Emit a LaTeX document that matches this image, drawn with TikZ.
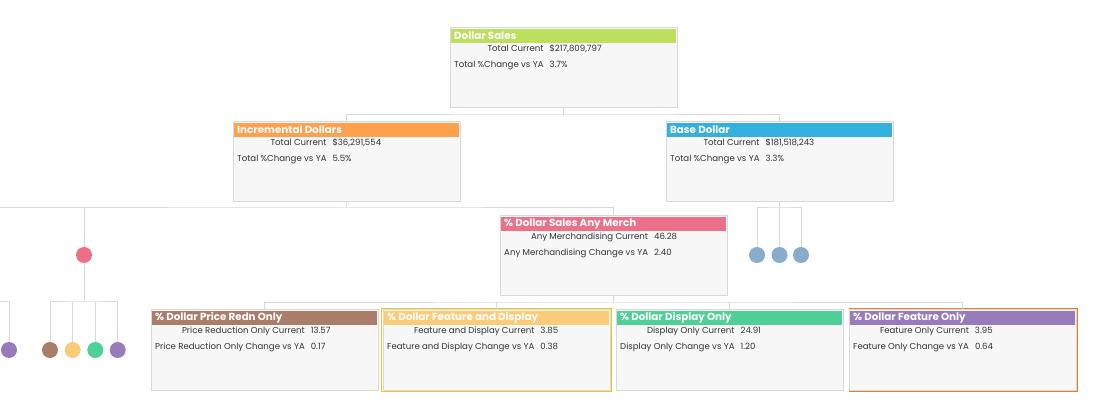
\documentclass[tikz,border=0pt]{standalone}
\usepackage{fontspec}
\setmainfont{Poppins}
\definecolor{boxline}{HTML}{D9D9D9}
\definecolor{boxfill}{HTML}{F7F7F7}
\definecolor{connc}{HTML}{D9D9D9}
\definecolor{txt}{HTML}{333333}
\definecolor{cLime}{HTML}{BCDF5E}
\definecolor{cOrange}{HTML}{FFA04F}
\definecolor{cBlue}{HTML}{34B0DC}
\definecolor{cPink}{HTML}{EC7088}
\definecolor{cBrown}{HTML}{AA7C6A}
\definecolor{cYellow}{HTML}{FACC7A}
\definecolor{cGreen}{HTML}{50CF96}
\definecolor{cPurple}{HTML}{987BBB}
\definecolor{cSteel}{HTML}{8AACCB}
\definecolor{selYellow}{HTML}{F5C518}
\definecolor{selOrange}{HTML}{F07D1F}
\newcommand\card[9]{%
  \node[card] (#1) at (#2,#3) {};
  \fill[#4] (#2+0.6,#3+0.6) rectangle (#2+226.4,#3+15);
  \node[hdr] (#1-t) at (#2+4,#3+8) {#5};
  \node[body] (#1-b) at (#2+4,#3+16) {\begin{tabular}{@{}r@{\hspace{6pt}}l@{}}#6 & #7\\[6pt] #8 & #9\end{tabular}};
}
\tikzset{
  card/.style={draw=boxline, fill=boxfill, line width=1pt, minimum width=227pt, minimum height=80pt, anchor=north west, inner sep=0pt, outer sep=0pt},
  hdr/.style={anchor=west, inner sep=0pt, text=white, font=\fontsize{10.3}{12}\selectfont\bfseries},
  body/.style={anchor=north west, inner sep=0pt, text=txt, font=\fontsize{8.6}{10}\selectfont},
  conn/.style={draw=connc, line width=1pt},
  dot/.style={circle, minimum size=16pt, inner sep=0pt, outer sep=0pt},
}
\begin{document}
\begin{tikzpicture}[x=1pt,y=-1pt]
\useasboundingbox[fill=white] (0,0) rectangle (1096,414);
% cards
\card{ds}{450}{28}{cLime}{Dollar Sales}{Total Current}{\$217,809,797}{Total \%Change vs YA}{3.7\%}
\card{inc}{233}{122}{cOrange}{Incremental Dollars}{Total Current}{\$36,291,554}{Total \%Change vs YA}{5.5\%}
\card{base}{666}{122}{cBlue}{Base Dollar}{Total Current}{\$181,518,243}{Total \%Change vs YA}{3.3\%}
\card{am}{500}{216}{cPink}{\% Dollar Sales Any Merch}{Any Merchandising Current}{46.28}{Any Merchandising Change vs YA}{2.40}
\card{pr}{151}{310}{cBrown}{\% Dollar Price Redn Only}{Price Reduction Only Current}{13.57}{Price Reduction Only Change vs YA}{0.17}
\card{fd}{383}{310}{cYellow}{\% Dollar Feature and Display}{Feature and Display Current}{3.85}{Feature and Display Change vs YA}{0.38}
\card{do}{616}{310}{cGreen}{\% Dollar Display Only}{Display Only Current}{24.91}{Display Only Change vs YA}{1.20}
\card{fo}{849}{310}{cPurple}{\% Dollar Feature Only}{Feature Only Current}{3.95}{Feature Only Change vs YA}{0.64}
% selection outlines
\draw[selYellow, line width=1pt] ([xshift=-1.5pt,yshift=1.5pt]fd.north west) rectangle ([xshift=1.5pt,yshift=-1.5pt]fd.south east);
\draw[selOrange, line width=1.5pt] ([xshift=-0.5pt,yshift=1.5pt]fo.north west) -- ([xshift=1.7pt,yshift=1.5pt]fo.north east) -- ([xshift=1.7pt,yshift=-1.7pt]fo.south east) -- ([xshift=-0.5pt,yshift=-1.7pt]fo.south west);
% dots
\node[dot, fill=cPink] (p1) at (84,255) {};
\node[dot, fill=cPurple] (c0) at (9,350) {};
\node[dot, fill=cBrown] (c1) at (50,350) {};
\node[dot, fill=cYellow] (c2) at (72.7,350) {};
\node[dot, fill=cGreen] (c3) at (95.3,350) {};
\node[dot, fill=cPurple] (c4) at (117.7,350) {};
\node[dot, fill=cSteel] (b1) at (757,255) {};
\node[dot, fill=cSteel] (b2) at (779.5,255) {};
\node[dot, fill=cSteel] (b3) at (801,255) {};
% connectors
\draw[conn] (ds.south) -- ++(0,7) coordinate (j0);
\draw[conn] (inc.north) |- (j0) -| (base.north);
\draw[conn] (inc.south) -- ++(0,6) coordinate (j1);
\coordinate (le1) at (0,208);
\draw[conn] (le1) -- (j1) -| (am.north);
\draw[conn] (p1.north) -- (p1 |- j1);
\coordinate (j2) at (84,302);
\draw[conn] (p1.south) -- (j2);
\draw[conn] (c1.north) |- (j2) -| (c4.north);
\draw[conn] (c2.north) -- (c2 |- j2);
\draw[conn] (c3.north) -- (c3 |- j2);
\coordinate (le2) at (0,302);
\draw[conn] (le2) -| (c0.north);
\draw[conn] (base.south) -- ++(0,6) coordinate (j3);
\draw[conn] (b1.north) |- (j3) -| (b3.north);
\draw[conn] (b2.north) -- (j3);
\draw[conn] (am.south) -- ++(0,7) coordinate (j4);
\draw[conn] (pr.north) |- (j4) -| (fo.north);
\draw[conn] (fd.north) -- (fd.north |- j4);
\draw[conn] (do.north) -- (do.north |- j4);
\end{tikzpicture}
\end{document}
